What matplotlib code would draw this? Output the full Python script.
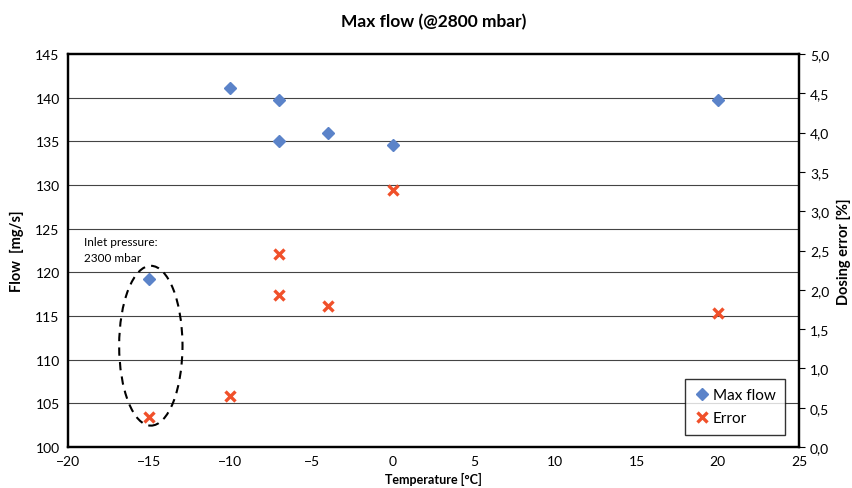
import numpy as np
import matplotlib.pyplot as plt
from matplotlib.patches import Ellipse

# data
flow_temp = [-15, -10, -7, -7, -4, 0, 20]
flow_vals = [119.2, 141.1, 139.7, 135.0, 135.9, 134.6, 139.7]
err_temp = [-15, -10, -7, -7, -4, 0, 20]
err_vals = [0.38, 0.65, 2.45, 1.94, 1.80, 3.27, 1.71]

flow_ticks = [100, 105, 110, 115, 120, 125, 130, 135, 140, 145]
err_ticks = [0.0, 0.5, 1.0, 1.5, 2.0, 2.5, 3.0, 3.5, 4.0, 4.5, 5.0]
x_ticks = [-20, -15, -10, -5, 0, 5, 10, 15, 20, 25]

plt.rcParams['font.family'] = ['Lato', 'DejaVu Sans']

fig = plt.figure(figsize=(8.52, 4.89), dpi=100)
ax = fig.add_axes([0.0798, 0.0838, 0.858, 0.8037])
ax2 = ax.twinx()

ax.set_xlim(-20, 25)
ax.set_ylim(100, 145)
ax2.set_ylim(0, 5)
ax.set_xticks(x_ticks)
ax.set_yticks(flow_ticks)
ax2.set_yticks(err_ticks)
ax2.set_yticklabels([('%.1f' % v).replace('.', ',') for v in err_ticks])

for v in flow_ticks[1:-1]:
    ax.axhline(v, color='#444444', lw=0.8, zorder=0)

for a in (ax, ax2):
    for s in a.spines.values():
        s.set_linewidth(1.6)
        s.set_color('black')
ax.tick_params(axis='both', length=0, labelsize=10, pad=6)
ax2.tick_params(axis='y', length=4, width=0.8, labelsize=10, pad=4)

p1, = ax.plot(flow_temp, flow_vals, linestyle='none', marker='D', ms=6,
              color='#5B83C9', markeredgecolor='#5B83C9', zorder=3)
p2, = ax2.plot(err_temp, err_vals, linestyle='none', marker='x', ms=6.5, mew=2.4,
               color='#F0502A', zorder=3)

ell = Ellipse((-14.9, 111.6), 3.9, 18.3, fill=False, ls=(0, (4, 3)), lw=1.5,
              edgecolor='black', zorder=2)
ax.add_patch(ell)
ax.text(-19.0, 122.6, 'Inlet pressure:\n2300 mbar', fontsize=8.5, va='center',
        ha='left', linespacing=1.5)

ax.set_title('Max flow (@2800 mbar)', fontsize=12.5, fontweight='bold', pad=20)
ax.set_ylabel('Flow  [mg/s]', fontsize=10.5, fontweight='bold', labelpad=8)
ax2.set_ylabel('Dosing error [%]', fontsize=10.5, fontweight='bold', labelpad=5)
ax.set_xlabel('Temperature [°C]', fontsize=9, fontweight='bold', labelpad=3)

leg = ax.legend([p1, p2], ['Max flow', 'Error'], loc='lower right',
                bbox_to_anchor=(0.987, 0.02), fontsize=11, frameon=True,
                fancybox=False, handletextpad=0.2, handlelength=1.0,
                borderpad=0.6, labelspacing=0.6, borderaxespad=0.3)
leg.get_frame().set_edgecolor('black')
leg.get_frame().set_linewidth(1.0)

fig.savefig('out.png', dpi=100)
